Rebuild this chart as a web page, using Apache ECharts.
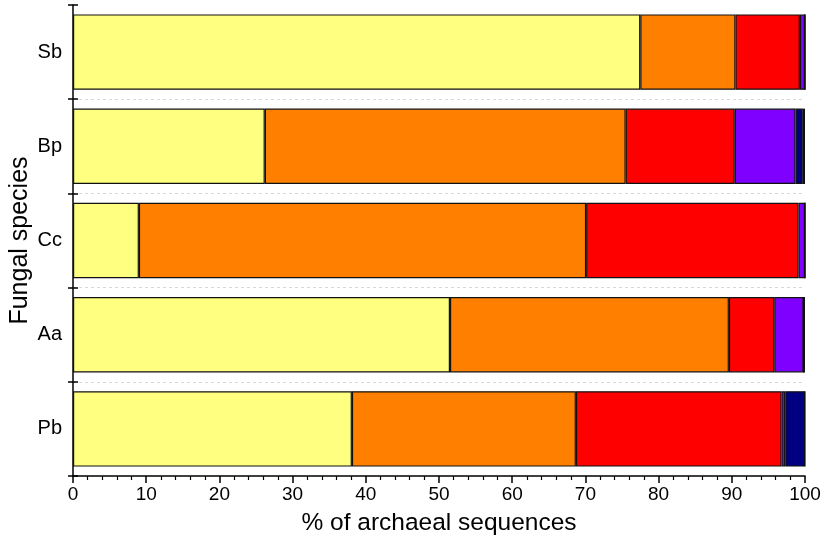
<!DOCTYPE html>
<html><head><meta charset="utf-8">
<script src="https://cdn.jsdelivr.net/npm/echarts@6/dist/echarts.min.js"></script>
<style>html,body{margin:0;padding:0;background:#fff}#c{width:824px;height:556px}</style>
</head><body><div id="c"></div>
<script>
const categories = ['Sb', 'Bp', 'Cc', 'Aa', 'Pb'];
const seg1 = [77.5, 26.2, 9.0, 51.5, 38.1];
const seg2 = [13.0, 49.3, 61.1, 38.1, 30.6];
const seg3 = [8.8, 14.9, 29.0, 6.2, 28.1];
const seg4 = [0.7, 8.3, 0.9, 4.0, 0.5];
const seg5 = [0, 1.0, 0, 0, 2.7];
const seg6 = [0, 0.3, 0, 0.2, 0];
const colors = ['#FFFF80', '#FF8000', '#FF0000', '#8000FF', '#000080', '#008080'];
const segs = [seg1, seg2, seg3, seg4, seg5, seg6];
const xTicks = [0, 10, 20, 30, 40, 50, 60, 70, 80, 90, 100];

const font = 'Liberation Sans, Arial, sans-serif';
const chart = echarts.init(document.getElementById('c'));
chart.setOption({
  animation: false,
  grid: {left: 73, right: 19, top: 5, bottom: 80, containLabel: false, outerBoundsMode: 'none'},
  xAxis: {
    type: 'value', min: xTicks[0], max: xTicks[xTicks.length - 1], interval: 10,
    name: '% of archaeal sequences', nameLocation: 'middle', nameGap: 35, nameMoveOverlap: false,
    nameTextStyle: {fontSize: 24.5, color: '#000', fontFamily: font},
    axisLine: {show: true, lineStyle: {color: '#000', width: 1.5}},
    axisTick: {show: true, length: 7, lineStyle: {color: '#000', width: 1.5}},
    minorTick: {show: true, splitNumber: 5, length: 4, lineStyle: {color: '#000', width: 1.2}},
    axisLabel: {fontSize: 19, color: '#000', fontFamily: font, margin: 9},
    splitLine: {show: false}
  },
  yAxis: [{
    type: 'category', data: categories, inverse: true,
    name: 'Fungal species', nameLocation: 'middle', nameGap: 40, nameMoveOverlap: false,
    nameTextStyle: {fontSize: 25, color: '#000', fontFamily: font},
    axisLine: {show: true, lineStyle: {color: '#000', width: 1.5}},
    axisTick: {show: true, length: 5, lineStyle: {color: '#000', width: 1.5}},
    axisLabel: {fontSize: 20, color: '#000', fontFamily: font, margin: 11},
    splitLine: {show: true, showMinLine: false, showMaxLine: false,
      lineStyle: {color: '#d8d8d8', type: [3, 3], width: 1}}
  }, {
    type: 'category', data: categories, inverse: true, position: 'left', offset: 0,
    axisLine: {show: false},
    axisTick: {show: true, inside: true, length: 5, lineStyle: {color: '#000', width: 1.5}},
    axisLabel: {show: false}, splitLine: {show: false}
  }],
  series: segs.map((s, i) => ({
    type: 'bar', stack: 'total', data: s, barWidth: '80%',
    itemStyle: {color: colors[i], borderColor: '#111', borderWidth: 1.2},
    emphasis: {disabled: true}
  }))
});
</script></body></html>
